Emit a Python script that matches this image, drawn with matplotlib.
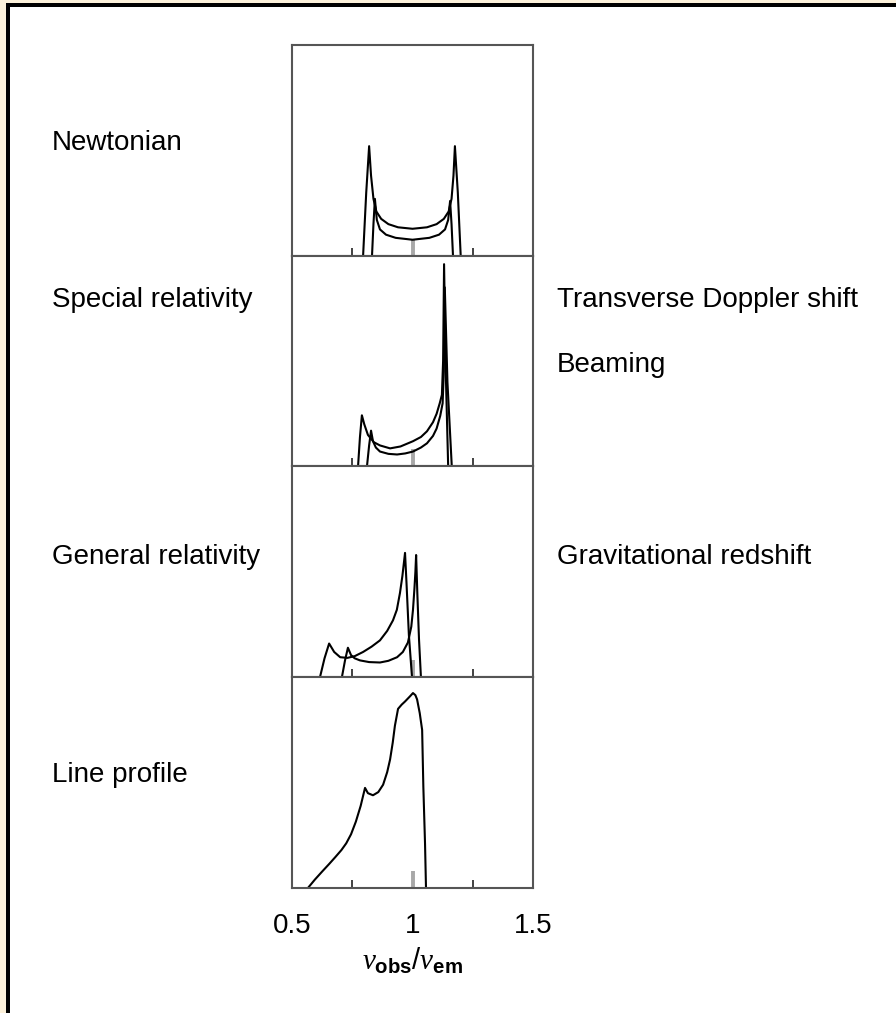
import matplotlib.pyplot as plt
from matplotlib.patches import Rectangle

plt.rcParams['font.family'] = ['Liberation Sans', 'DejaVu Sans']
plt.rcParams['mathtext.fontset'] = 'custom'
plt.rcParams['mathtext.it'] = 'Liberation Serif:italic'
plt.rcParams['mathtext.rm'] = 'Liberation Sans:bold'

# line profiles, x in nu_obs/nu_em, y as fraction of panel height
newton_a_x = [0.795, 0.808, 0.820, 0.828, 0.838, 0.850, 0.870, 0.900, 0.940, 1.000,
              1.060, 1.100, 1.130, 1.150, 1.162, 1.170, 1.176, 1.188, 1.200]
newton_a_y = [0.0, 0.30, 0.52, 0.38, 0.27, 0.21, 0.175, 0.15, 0.135, 0.128,
              0.135, 0.15, 0.175, 0.21, 0.27, 0.38, 0.52, 0.30, 0.0]
newton_b_x = [0.832, 0.838, 0.844, 0.852, 0.865, 0.890, 0.930, 1.000, 1.070, 1.110,
              1.135, 1.148, 1.156, 1.162, 1.168]
newton_b_y = [0.0, 0.15, 0.27, 0.17, 0.125, 0.10, 0.085, 0.076, 0.085, 0.10,
              0.125, 0.17, 0.26, 0.15, 0.0]

sr_a_x = [0.774, 0.782, 0.790, 0.800, 0.815, 0.840, 0.865, 0.907, 0.950, 1.002,
          1.035, 1.060, 1.085, 1.100, 1.113, 1.122, 1.127, 1.131, 1.138, 1.148]
sr_a_y = [0.0, 0.14, 0.243, 0.20, 0.15, 0.115, 0.10, 0.086, 0.095, 0.12,
          0.14, 0.167, 0.21, 0.25, 0.30, 0.34, 0.50, 0.96, 0.45, 0.0]
sr_b_x = [0.811, 0.820, 0.828, 0.836, 0.848, 0.865, 0.900, 0.936, 0.970, 1.002,
          1.035, 1.060, 1.085, 1.100, 1.115, 1.125, 1.130, 1.134, 1.145, 1.163]
sr_b_y = [0.0, 0.10, 0.17, 0.12, 0.09, 0.071, 0.06, 0.057, 0.062, 0.071,
          0.09, 0.11, 0.145, 0.18, 0.24, 0.30, 0.45, 0.85, 0.40, 0.0]

gr_a_x = [0.616, 0.635, 0.654, 0.675, 0.700, 0.730, 0.760, 0.795, 0.830, 0.865,
          0.895, 0.919, 0.935, 0.948, 0.958, 0.965, 0.969, 0.975, 0.985, 0.998]
gr_a_y = [0.0, 0.09, 0.16, 0.12, 0.095, 0.092, 0.10, 0.12, 0.145, 0.175,
          0.22, 0.27, 0.32, 0.40, 0.48, 0.55, 0.59, 0.45, 0.20, 0.0]
gr_b_x = [0.707, 0.720, 0.732, 0.745, 0.760, 0.782, 0.820, 0.865, 0.900, 0.936,
          0.960, 0.981, 0.995, 1.002, 1.008, 1.012, 1.015, 1.020, 1.027, 1.035]
gr_b_y = [0.0, 0.08, 0.14, 0.105, 0.09, 0.08, 0.072, 0.07, 0.078, 0.095,
          0.12, 0.165, 0.24, 0.32, 0.42, 0.50, 0.58, 0.40, 0.18, 0.0]

line_x = [0.566, 0.595, 0.625, 0.655, 0.680, 0.705, 0.725, 0.745, 0.765, 0.785,
          0.803, 0.815, 0.836, 0.858, 0.878, 0.895, 0.907, 0.918, 0.927, 0.940,
          0.955, 0.969, 0.990, 1.002, 1.012, 1.019, 1.030, 1.040, 1.045, 1.052,
          1.056]
line_y = [0.0, 0.04, 0.078, 0.115, 0.147, 0.18, 0.212, 0.255, 0.315, 0.39,
          0.475, 0.45, 0.44, 0.455, 0.49, 0.55, 0.61, 0.69, 0.77, 0.85,
          0.87, 0.885, 0.91, 0.925, 0.915, 0.895, 0.83, 0.75, 0.48, 0.21,
          0.0]

panels = [
    [(newton_a_x, newton_a_y), (newton_b_x, newton_b_y)],
    [(sr_a_x, sr_a_y), (sr_b_x, sr_b_y)],
    [(gr_a_x, gr_a_y), (gr_b_x, gr_b_y)],
    [(line_x, line_y)],
]
left_labels = ['Newtonian', 'Special relativity', 'General relativity', 'Line profile']
left_label_y = [143, 300, 557, 775]
right_labels = ['Transverse Doppler shift', 'Beaming', 'Gravitational redshift']
right_label_y = [300, 365, 557]
tick_pos = [0.5, 0.75, 1.0, 1.25, 1.5]
tick_text = ['0.5', '', '1', '', '1.5']

W, H = 896, 1013
fig = plt.figure(figsize=(W / 100, H / 100), dpi=100)
fig.patch.set_facecolor('white')

# cream margin and black frame on top and left edges
cream = '#fcf1da'
fig.add_artist(Rectangle((0, 1 - 3 / H), 1, 3 / H, transform=fig.transFigure,
                         facecolor=cream, edgecolor='none'))
fig.add_artist(Rectangle((0, 0), 6 / W, 1, transform=fig.transFigure,
                         facecolor=cream, edgecolor='none'))
fig.add_artist(Rectangle((6 / W, 1 - 7 / H), 1, 4 / H, transform=fig.transFigure,
                         facecolor='black', edgecolor='none'))
fig.add_artist(Rectangle((6 / W, 0), 4 / W, 1 - 3 / H, transform=fig.transFigure,
                         facecolor='black', edgecolor='none'))

ax_left, ax_right = 292, 533
top, ph = 45, 210.75
for i, curves in enumerate(panels):
    y_top = top + i * ph
    ax = fig.add_axes([ax_left / W, 1 - (y_top + ph) / H, (ax_right - ax_left) / W, ph / H])
    for cx, cy in curves:
        ax.plot(cx, cy, color='black', lw=1.5, solid_joinstyle='round')
    ax.set_xlim(0.5, 1.5)
    ax.set_ylim(0, 1)
    ax.set_yticks([])
    ax.set_xticks(tick_pos)
    ax.tick_params(axis='x', direction='in', length=6, width=1.3, color='#333333',
                   labelsize=20, pad=18)
    if i == len(panels) - 1:
        ax.set_xticklabels(tick_text)
        ax.set_xlabel(r'$\nu_{\rm obs}$/$\nu_{\rm em}$', fontsize=21, labelpad=5)
    else:
        ax.set_xticklabels([])
    # rest-frame marker at 1 is longer and grey
    mid = ax.xaxis.get_major_ticks()[2]
    mid.tick1line.set_markersize(12)
    mid.tick1line.set_markeredgewidth(2.8)
    mid.tick1line.set_markeredgecolor('#a8a8a8')
    for s in ax.spines.values():
        s.set_color('#555555')
        s.set_linewidth(1.5)

for t, y in zip(left_labels, left_label_y):
    fig.text(52 / W, 1 - y / H, t, fontsize=20, ha='left', va='center')
for t, y in zip(right_labels, right_label_y):
    fig.text(557 / W, 1 - y / H, t, fontsize=20, ha='left', va='center')

fig.savefig('out.png', dpi=100)
